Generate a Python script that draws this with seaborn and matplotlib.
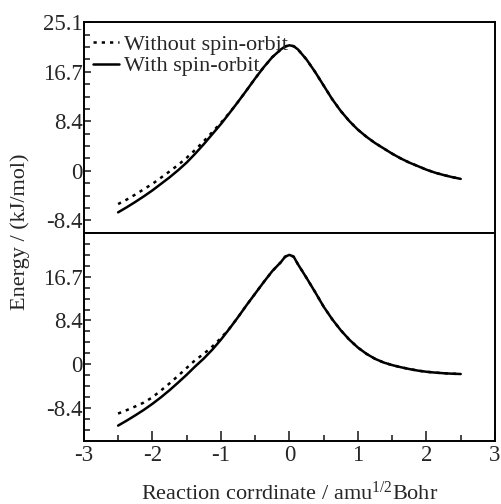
# Energy profile along the reaction coordinate, with and without spin-orbit
import numpy as np
import pandas as pd
import matplotlib
matplotlib.use("Agg")
import matplotlib.pyplot as plt
import seaborn as sns
from matplotlib.ticker import MultipleLocator

# --------------------------------------
# Data
# --------------------------------------
x_coord = [-2.5, -2.375, -2.25, -2.125, -2.0, -1.875, -1.75, -1.625, -1.5, -1.375,
           -1.25, -1.125, -1.0, -0.875, -0.75, -0.625, -0.5, -0.375, -0.25, -0.125,
           -0.0625, 0.0, 0.0625, 0.125, 0.25, 0.375, 0.5, 0.625, 0.75, 0.875,
           1.0, 1.125, 1.25, 1.375, 1.5, 1.625, 1.75, 1.875, 2.0, 2.125,
           2.25, 2.375, 2.5]

# upper panel
top_with_so = [-7.0, -6.15, -5.25, -4.3, -3.3, -2.2, -1.1, 0.1, 1.4, 2.9,
               4.5, 6.2, 7.9, 9.75, 11.65, 13.6, 15.6, 17.5, 19.2, 20.5,
               21.0, 21.2, 21.05, 20.5, 18.8, 16.7, 14.4, 12.1, 10.1, 8.4,
               6.95, 5.75, 4.7, 3.8, 2.9, 2.1, 1.4, 0.8, 0.2, -0.3,
               -0.7, -1.05, -1.35]
top_without_so = [-5.6, -4.85, -4.0, -3.1, -2.2, -1.15, -0.1, 1.0, 2.2, 3.55,
                  5.0, 6.55, 8.1, 9.8, 11.65, 13.6, 15.6, 17.5, 19.2, 20.5,
                  21.0, 21.2, 21.05, 20.5, 18.8, 16.7, 14.4, 12.1, 10.1, 8.4,
                  6.95, 5.75, 4.7, 3.8, 2.9, 2.1, 1.4, 0.8, 0.2, -0.3,
                  -0.7, -1.05, -1.35]

# lower panel
bot_with_so = [-11.7, -10.75, -9.75, -8.7, -7.55, -6.3, -4.95, -3.5, -2.0, -0.4,
               1.1, 2.8, 4.7, 6.8, 9.0, 11.3, 13.5, 15.7, 17.8, 19.5,
               20.55, 20.9, 20.55, 19.1, 16.5, 13.8, 11.0, 8.6, 6.5, 4.7,
               3.2, 2.0, 1.05, 0.35, -0.15, -0.55, -0.9, -1.2, -1.42, -1.58,
               -1.7, -1.79, -1.85]
bot_without_so = [-9.4, -8.75, -8.05, -7.3, -6.3, -5.0, -3.65, -2.2, -0.7, 0.8,
                  2.0, 3.4, 5.0, 6.85, 9.0, 11.3, 13.5, 15.7, 17.8, 19.5,
                  20.55, 20.9, 20.55, 19.1, 16.5, 13.8, 11.0, 8.6, 6.5, 4.7,
                  3.2, 2.0, 1.05, 0.35, -0.15, -0.55, -0.9, -1.2, -1.42, -1.58,
                  -1.7, -1.79, -1.85]

y_tick_vals = [-8.368, 0.0, 8.368, 16.736, 25.104]
y_tick_labels = ["-8.4", "0", "8.4", "16.7", "25.1"]

# --------------------------------------
# Style
# --------------------------------------
sns.set_style("white")
plt.rcParams["font.family"] = ["Liberation Serif", "DejaVu Serif"]
plt.rcParams["mathtext.fontset"] = "custom"
plt.rcParams["mathtext.rm"] = "Liberation Serif"
plt.rcParams["mathtext.it"] = "Liberation Serif:italic"
plt.rcParams["axes.unicode_minus"] = False
fs = 16.5

fig = plt.figure(figsize=(5.02, 5.04), dpi=100)
ax_top = fig.add_axes([0.167, 0.538, 0.819, 0.418])
ax_bot = fig.add_axes([0.167, 0.125, 0.819, 0.413])

df_top = pd.DataFrame({"x": x_coord, "with": top_with_so, "without": top_without_so})
df_bot = pd.DataFrame({"x": x_coord, "with": bot_with_so, "without": bot_without_so})

for ax, df in [(ax_top, df_top), (ax_bot, df_bot)]:
    sns.lineplot(data=df, x="x", y="without", ax=ax, color="black", lw=1.8,
                 linestyle=(0, (1.3, 2.0)), label="Without spin-orbit")
    sns.lineplot(data=df, x="x", y="with", ax=ax, color="black", lw=1.8,
                 label="With spin-orbit")
    ax.set_xlim(-3, 3)
    ax.set_xlabel("")
    ax.set_ylabel("")
    for sp in ax.spines.values():
        sp.set_linewidth(1.4)
        sp.set_color("black")
    ax.yaxis.set_minor_locator(MultipleLocator(2.092))
    ax.tick_params(axis="y", which="both", direction="in", left=True, right=False,
                   labelsize=fs, width=1.2, pad=1)
    ax.tick_params(axis="y", which="major", length=5)
    ax.tick_params(axis="y", which="minor", length=4)

ax_top.set_ylim(-10.46, 25.104)
ax_top.set_yticks(y_tick_vals, y_tick_labels)
ax_top.tick_params(axis="x", which="both", bottom=False, labelbottom=False)
ax_top.legend(loc="upper left", frameon=False, fontsize=16, handlelength=1.2,
              handletextpad=0.2, borderaxespad=0.0, labelspacing=0.05,
              bbox_to_anchor=(0.0, 0.985))

ax_bot.set_ylim(-14.64, 25.104)
ax_bot.set_yticks(y_tick_vals[:4], y_tick_labels[:4])
ax_bot.get_legend().remove()
ax_bot.set_xticks([-3, -2, -1, 0, 1, 2, 3])
ax_bot.xaxis.set_minor_locator(MultipleLocator(0.5))
ax_bot.tick_params(axis="x", which="both", direction="in", bottom=True, top=False,
                   labelsize=fs, width=1.2, pad=3)
ax_bot.tick_params(axis="x", which="major", length=7)
ax_bot.tick_params(axis="x", which="minor", length=4)

fig.text(0.04, 0.54, "Energy / (kJ/mol)", rotation=90, ha="center", va="center",
         fontsize=16)
fig.text(0.577, 0.022, r"Reaction corrdinate / amu$^{\mathrm{1/2}}$Bohr",
         ha="center", va="center", fontsize=16)

fig.savefig("out.png", dpi=100)
